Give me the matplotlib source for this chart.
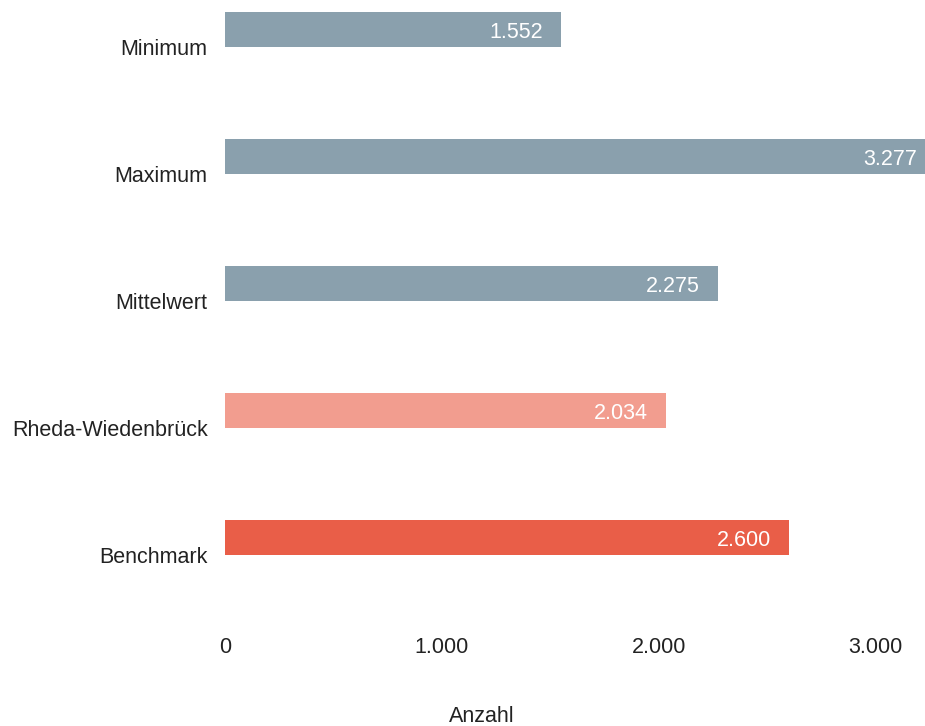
import matplotlib.pyplot as plt
from matplotlib.ticker import FuncFormatter
from matplotlib.transforms import offset_copy

plt.rcParams['font.family'] = ['Liberation Sans', 'DejaVu Sans']

categories = ['Minimum', 'Maximum', 'Mittelwert', 'Rheda-Wiedenbrück', 'Benchmark']
values = [1552, 3277, 2275, 2034, 2600]
colors = ['#8aa0ad', '#8aa0ad', '#8aa0ad', '#f29d8f', '#e95e48']
xticks = [0, 1000, 2000, 3000]


def de_fmt(v, pos=None):
    return f'{v:,.0f}'.replace(',', '.')


fig = plt.figure(figsize=(9.25, 7.26), dpi=100)
ax = fig.add_axes([225 / 925, 1 - 615 / 726, 700 / 925, 615 / 726])

pos = list(range(len(categories)))
h = 0.276
# bars sit just above their category line
ax.barh([p - h for p in pos], values, height=h, align='edge', color=colors)

ax.set_xlim(0, 3229)
ax.set_ylim(4.47, -0.37)
ax.set_yticks(pos)
ax.set_yticklabels(categories)
ax.set_xticks(xticks)
ax.xaxis.set_major_formatter(FuncFormatter(de_fmt))
ax.tick_params(axis='both', length=0, labelsize=15.5, colors='#222222')
ax.tick_params(axis='x', pad=16)
ax.tick_params(axis='y', pad=12.5)
for s in ax.spines.values():
    s.set_visible(False)

for p, v in zip(pos, values):
    tr = offset_copy(ax.transData, fig=fig, x=-18, y=-3, units='dots')
    ax.text(v, p - h / 2, de_fmt(v), transform=tr, ha='right', va='center',
            color='white', fontsize=15.5, clip_on=False)

fig.text(482 / 925, 1 - 717 / 726, 'Anzahl', ha='center', va='center',
         fontsize=15.5, color='#222222')

fig.savefig('out.png', dpi=100)
